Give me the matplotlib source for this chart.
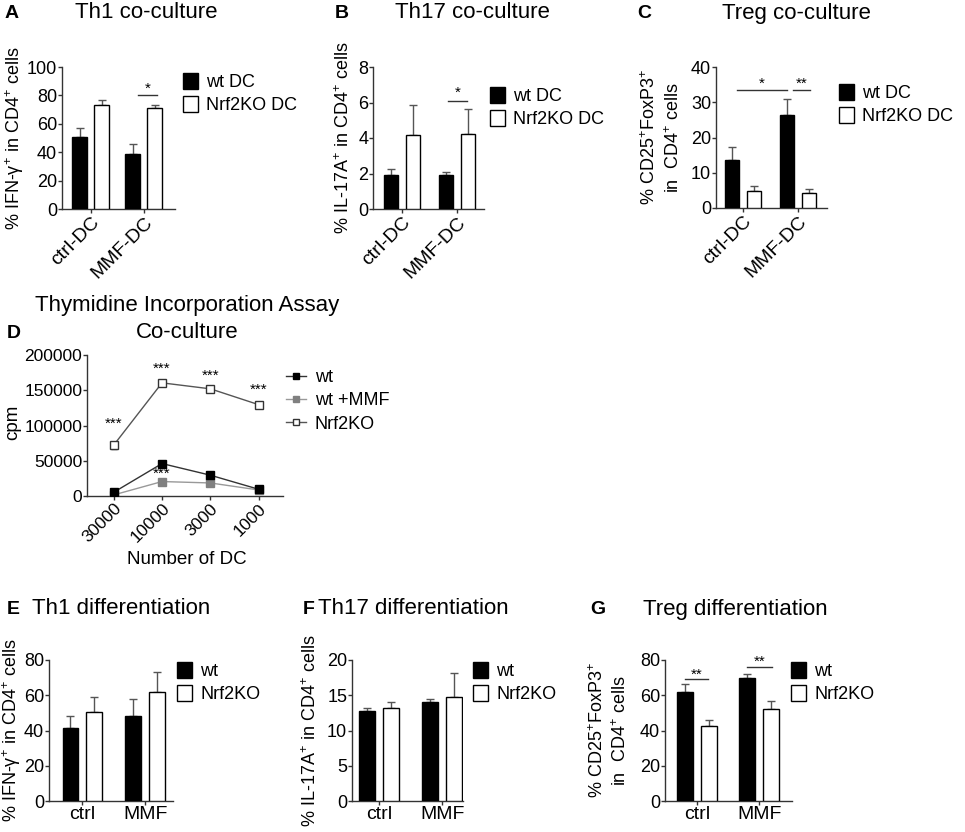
import matplotlib
matplotlib.use('Agg')
import matplotlib.pyplot as plt
from matplotlib.patches import Patch
from matplotlib.lines import Line2D
import numpy as np

plt.rcParams['font.family'] = ['Liberation Sans', 'DejaVu Sans']
plt.rcParams['mathtext.fontset'] = 'custom'
plt.rcParams['mathtext.rm'] = 'Liberation Sans'
plt.rcParams['mathtext.it'] = 'Liberation Sans:italic'
plt.rcParams['mathtext.default'] = 'regular'

# ---------------- data ----------------
groups_co = ['ctrl-DC', 'MMF-DC']
groups_diff = ['ctrl', 'MMF']

th1_co_wt = [51, 39]
th1_co_wt_err = [6, 7]
th1_co_ko = [73, 71]
th1_co_ko_err = [4, 2]

th17_co_wt = [1.9, 1.9]
th17_co_wt_err = [0.35, 0.2]
th17_co_ko = [4.15, 4.25]
th17_co_ko_err = [1.7, 1.4]

treg_co_wt = [13.5, 26.3]
treg_co_wt_err = [3.7, 4.6]
treg_co_ko = [4.8, 4.2]
treg_co_ko_err = [1.4, 1.2]

dc_numbers = ['30000', '10000', '3000', '1000']
cpm_wt = [5200, 46000, 29500, 9500]
cpm_wt_err = [1500, 2500, 2000, 1500]
cpm_wt_mmf = [1500, 20500, 18500, 8500]
cpm_wt_mmf_err = [800, 1500, 1500, 1000]
cpm_ko = [72000, 160500, 152000, 129500]
cpm_ko_err = [5000, 3000, 2500, 4500]

th1_diff_wt = [41.5, 48]
th1_diff_wt_err = [7, 10]
th1_diff_ko = [50.5, 62]
th1_diff_ko_err = [8.5, 11]

th17_diff_wt = [12.7, 14.0]
th17_diff_wt_err = [0.5, 0.4]
th17_diff_ko = [13.2, 14.8]
th17_diff_ko_err = [0.8, 3.4]

treg_diff_wt = [62, 70]
treg_diff_wt_err = [4.5, 2]
treg_diff_ko = [42.5, 52]
treg_diff_ko_err = [3.5, 4.5]

# ---------------- layout helpers ----------------
W, H = 965, 832
fig = plt.figure(figsize=(9.65, 8.32), dpi=100)

SPINE = '#333333'
ERR = '#555555'
TICKFS = 13
CATFS = 14
TITLEFS = 16
LABFS = 13
LEGFS = 13


def px_axes(x0, x1, y0, y1):
    return fig.add_axes([x0 / W, 1 - y1 / H, (x1 - x0) / W, (y1 - y0) / H])


def ftext(x, y, s, **kw):
    fig.text(x / W, 1 - y / H, s, **kw)


def style(ax, fs=TICKFS, xfs=CATFS):
    for s in ['top', 'right']:
        ax.spines[s].set_visible(False)
    for s in ['left', 'bottom']:
        ax.spines[s].set_color(SPINE)
        ax.spines[s].set_linewidth(1.0)
    ax.tick_params(axis='both', direction='out', length=3, width=1,
                   color=SPINE, pad=0.5)
    ax.tick_params(axis='y', labelsize=fs)
    ax.tick_params(axis='x', labelsize=xfs)


def bar_panel(ax, cats, wt, wt_err, ko, ko_err, ylim, yticks, xlim,
              width=0.27, off=0.2, rot=0):
    x = np.arange(len(cats))
    ax.bar(x - off, wt, width, color='black', edgecolor='black', linewidth=1,
           zorder=3)
    ax.bar(x + off, ko, width, color='white', edgecolor='black', linewidth=1,
           zorder=3)
    ax.errorbar(x - off, wt, yerr=[np.zeros(len(wt)), wt_err], fmt='none',
                ecolor=ERR, elinewidth=1, capsize=3, capthick=1, zorder=2)
    ax.errorbar(x + off, ko, yerr=[np.zeros(len(ko)), ko_err], fmt='none',
                ecolor=ERR, elinewidth=1, capsize=3, capthick=1, zorder=2)
    ax.set_ylim(*ylim)
    ax.set_yticks(yticks)
    ax.set_xlim(*xlim)
    ax.set_xticks(x)
    if rot:
        ax.set_xticklabels(cats, rotation=45, ha='right', rotation_mode='anchor')
    else:
        ax.set_xticklabels(cats)
    style(ax)


def sig(ax, x0, x1, y, ys, s):
    ax.plot([x0, x1], [y, y], color=SPINE, lw=1, clip_on=False)
    ax.text((x0 + x1) / 2, ys, s, ha='center', va='center', fontsize=11)


def bar_legend(ax, labels, x, y):
    handles = [Patch(facecolor='black', edgecolor='black'),
               Patch(facecolor='white', edgecolor='black')]
    ax.legend(handles, labels, loc='upper left', bbox_to_anchor=(x / W, 1 - y / H),
              bbox_transform=fig.transFigure, frameon=False, fontsize=LEGFS,
              handlelength=0.85, handleheight=0.95, handletextpad=0.45,
              labelspacing=0.3, borderpad=0, borderaxespad=0)


sup = '$^{+}$'

# ---------------- Panel A ----------------
axA = px_axes(62, 175, 67, 209)
bar_panel(axA, groups_co, th1_co_wt, th1_co_wt_err, th1_co_ko, th1_co_ko_err,
          (0, 100), [0, 20, 40, 60, 80, 100], (-0.54, 1.59), width=0.28, off=0.21, rot=1)
axA.set_ylabel('% IFN-γ' + sup + ' in CD4' + sup + ' cells', fontsize=LABFS, va='center')
axA.yaxis.set_label_coords(-0.42, 0.5)
sig(axA, 0.9, 1.25, 80, 85, '*')
bar_legend(axA, ['wt DC', 'Nrf2KO DC'], 183, 73)
ftext(5, 14, 'A', fontsize=14, fontweight='bold', va='center')
ftext(75, 13, 'Th1 co-culture', fontsize=TITLEFS, va='center')

# ---------------- Panel B ----------------
axB = px_axes(373, 484, 67, 209)
bar_panel(axB, groups_co, th17_co_wt, th17_co_wt_err, th17_co_ko, th17_co_ko_err,
          (0, 8), [0, 2, 4, 6, 8], (-0.53, 1.49), width=0.25, off=0.2, rot=1)
axB.set_ylabel('% IL-17A' + sup + ' in CD4' + sup + ' cells', fontsize=LABFS, va='center')
axB.yaxis.set_label_coords(-0.26, 0.5)
sig(axB, 0.84, 1.18, 6.1, 6.55, '*')
bar_legend(axB, ['wt DC', 'Nrf2KO DC'], 490, 87)
ftext(335, 14, 'B', fontsize=14, fontweight='bold', va='center')
ftext(395, 13, 'Th17 co-culture', fontsize=TITLEFS, va='center')

# ---------------- Panel C ----------------
axC = px_axes(716, 827, 67, 208)
bar_panel(axC, groups_co, treg_co_wt, treg_co_wt_err, treg_co_ko, treg_co_ko_err,
          (0, 40), [0, 10, 20, 30, 40], (-0.49, 1.53), width=0.26, off=0.2, rot=1)
axC.set_ylabel('% CD25' + sup + 'FoxP3' + sup + '\nin  CD4' + sup + ' cells',
               fontsize=LABFS, va='center', linespacing=1.3)
axC.yaxis.set_label_coords(-0.49, 0.5)
sig(axC, -0.11, 0.80, 33.5, 35.3, '*')
sig(axC, 0.91, 1.22, 33.5, 35.3, '**')
bar_legend(axC, ['wt DC', 'Nrf2KO DC'], 839, 84)
ftext(637, 14, 'C', fontsize=14, fontweight='bold', va='center')
ftext(722, 13, 'Treg co-culture', fontsize=TITLEFS, va='center')

# ---------------- Panel D ----------------
axD = px_axes(87, 283, 355, 496)
xd = np.arange(len(dc_numbers))
styles_d = [
    dict(color='#333333', mfc='black', mec='black', zorder=4),
    dict(color='#999999', mfc='#808080', mec='#808080', zorder=3),
    dict(color='#555555', mfc='white', mec='#333333', zorder=5),
]
series_d = [(cpm_wt, cpm_wt_err, 'wt'), (cpm_wt_mmf, cpm_wt_mmf_err, 'wt +MMF'),
            (cpm_ko, cpm_ko_err, 'Nrf2KO')]
handles_d = []
for (vals, errs, lab), st in zip(series_d, styles_d):
    axD.errorbar(xd, vals, yerr=errs, fmt='s-', ms=5.5, lw=1, capsize=2,
                 ecolor=st['mec'], **st)
    handles_d.append(Line2D([], [], marker='s', ms=5, lw=1, color=st['color'],
                            mfc=st['mfc'], mec=st['mec'], label=lab))
axD.set_ylim(0, 200000)
axD.set_yticks([0, 50000, 100000, 150000, 200000])
axD.set_xlim(-0.55, 3.5)
axD.set_xticks(xd)
axD.set_xticklabels(dc_numbers, rotation=45, ha='right', rotation_mode='anchor')
style(axD, fs=12.5, xfs=12.5)
axD.set_ylabel('cpm', fontsize=13.5, va='center')
axD.yaxis.set_label_coords(-0.38, 0.52)
axD.set_xlabel('Number of DC', fontsize=13.5, va='center')
axD.xaxis.set_label_coords(0.51, -0.45)
star_y = [102000, 180000, 170000, 150000]
for xi, yi in zip(xd, star_y):
    axD.text(xi, yi, '***', ha='center', va='center', fontsize=11)
axD.text(1, 31000, '***', ha='center', va='center', fontsize=11)
axD.legend(handles=handles_d, loc='upper left', bbox_to_anchor=(286 / W, 1 - 369 / H),
           bbox_transform=fig.transFigure, frameon=False, fontsize=LEGFS,
           handlelength=1.1, handletextpad=0.5, labelspacing=0.35,
           borderpad=0, borderaxespad=0)
ftext(187, 305, 'Thymidine Incorporation Assay', fontsize=TITLEFS, ha='center', va='center')
ftext(187, 332, 'Co-culture', fontsize=TITLEFS, ha='center', va='center')
ftext(7, 333, 'D', fontsize=14, fontweight='bold', va='center')

# ---------------- Panel E ----------------
axE = px_axes(49, 173, 660, 801)
bar_panel(axE, groups_diff, th1_diff_wt, th1_diff_wt_err, th1_diff_ko, th1_diff_ko_err,
          (0, 80), [0, 20, 40, 60, 80], (-0.53, 1.44), width=0.25, off=0.19)
axE.set_ylabel('% IFN-γ' + sup + ' in CD4' + sup + ' cells', fontsize=LABFS, va='center')
axE.yaxis.set_label_coords(-0.30, 0.5)
bar_legend(axE, ['wt', 'Nrf2KO'], 177, 662)
ftext(7, 609, 'E', fontsize=14, fontweight='bold', va='center')
ftext(32, 609, 'Th1 differentiation', fontsize=TITLEFS, va='center')

# ---------------- Panel F ----------------
axF = px_axes(352, 463, 660, 801)
bar_panel(axF, groups_diff, th17_diff_wt, th17_diff_wt_err, th17_diff_ko, th17_diff_ko_err,
          (0, 20), [0, 5, 10, 15, 20], (-0.43, 1.33), width=0.25, off=0.19)
axF.set_ylabel('% IL-17A' + sup + ' in CD4' + sup + ' cells', fontsize=LABFS, va='center')
axF.yaxis.set_label_coords(-0.37, 0.5)
bar_legend(axF, ['wt', 'Nrf2KO'], 473, 662)
ftext(303, 609, 'F', fontsize=14, fontweight='bold', va='center')
ftext(318, 609, 'Th17 differentiation', fontsize=TITLEFS, va='center')

# ---------------- Panel G ----------------
axG = px_axes(665, 792, 660, 801)
bar_panel(axG, groups_diff, treg_diff_wt, treg_diff_wt_err, treg_diff_ko, treg_diff_ko_err,
          (0, 80), [0, 20, 40, 60, 80], (-0.52, 1.53), width=0.26, off=0.19)
axG.set_ylabel('% CD25' + sup + 'FoxP3' + sup + '\nin  CD4' + sup + ' cells',
               fontsize=LABFS, va='center', linespacing=1.3)
axG.yaxis.set_label_coords(-0.44, 0.5)
sig(axG, -0.19, 0.18, 69.2, 71.8, '**')
sig(axG, 0.81, 1.21, 76, 78.8, '**')
bar_legend(axG, ['wt', 'Nrf2KO'], 791, 662)
ftext(590, 609, 'G', fontsize=14, fontweight='bold', va='center')
ftext(643, 609, 'Treg differentiation', fontsize=TITLEFS, va='center')

fig.savefig('out.png', dpi=100)
